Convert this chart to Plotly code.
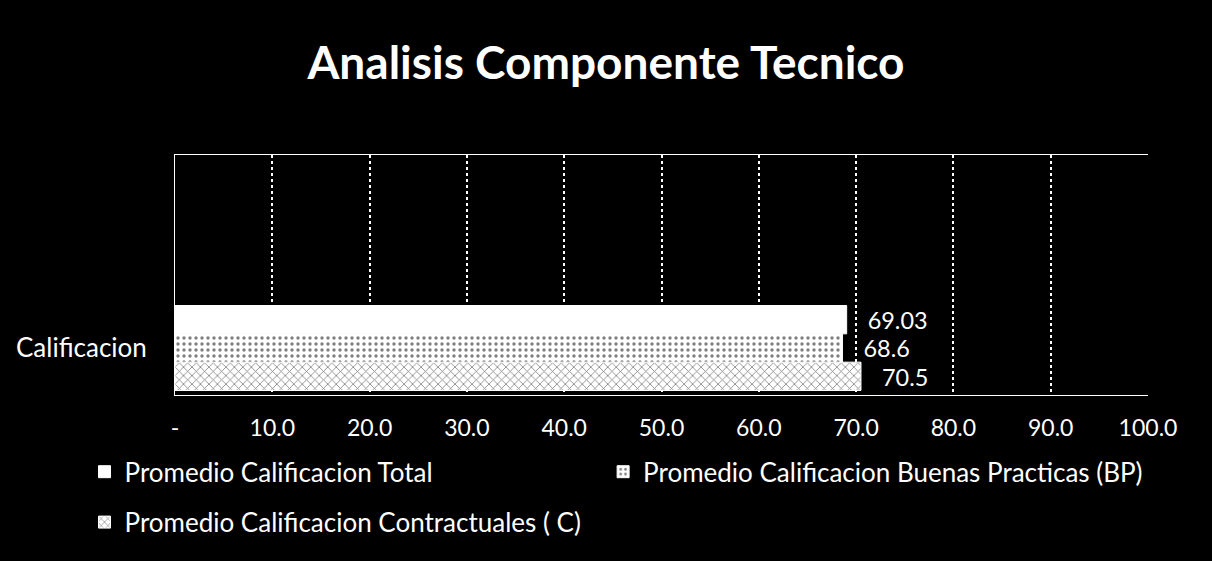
import plotly.graph_objects as go

categories = ["Calificacion"]
series_names = [
    "Promedio Calificacion Total",
    "Promedio Calificacion Buenas Practicas (BP)",
    "Promedio Calificacion Contractuales ( C)",
]
series_values = [[69.03], [68.6], [70.5]]
series_labels = ["69.03", "68.6", "70.5"]
tick_vals = [0, 10, 20, 30, 40, 50, 60, 70, 80, 90, 100]
tick_text = ["-", "10.0", "20.0", "30.0", "40.0", "50.0", "60.0", "70.0", "80.0", "90.0", "100.0"]

patterns = ["", ".", "x"]
legend_ids = ["legend", "legend3", "legend2"]
FONT = "Lato"
NBSP = "\u00a0"

fig = go.Figure()
# Plotly stacks grouped horizontal bars bottom-up, so add in reverse order
for i in reversed(range(len(series_names))):
    fig.add_trace(go.Bar(
        y=categories,
        x=series_values[i],
        name=series_names[i],
        orientation="h",
        legend=legend_ids[i],
        text=[NBSP * 3 + series_labels[i]],
        textposition="outside",
        textfont=dict(color="white", size=24, family=FONT),
        cliponaxis=False,
        marker=dict(
            color="white",
            line=dict(color="white", width=1),
            pattern=dict(shape=patterns[i], fgcolor="black", bgcolor="white",
                         size=6, solidity=0.25),
        ),
    ))

legend_common = dict(orientation="h", xanchor="left", yanchor="middle",
                     font=dict(size=26, color="white", family=FONT),
                     bgcolor="rgba(0,0,0,0)", itemwidth=30)

fig.update_layout(
    width=1212, height=561,
    paper_bgcolor="black", plot_bgcolor="black",
    font=dict(family=FONT, color="white", size=22),
    title=dict(text="<b>Analisis Componente Tecnico</b>", x=0.5, xanchor="center",
               y=0.888, yanchor="middle",
               font=dict(size=46, color="white", family=FONT)),
    barmode="group", bargap=0.15, bargroupgap=0.0,
    margin=dict(l=175, r=64, t=155, b=166),
    showlegend=True,
    legend=dict(x=-0.093, y=-0.32, **legend_common),
    legend3=dict(x=0.44, y=-0.32, **legend_common),
    legend2=dict(x=-0.093, y=-0.53, **legend_common),
    xaxis=dict(range=[0, 100], tickvals=tick_vals, ticktext=tick_text,
               showgrid=True, gridcolor="white", griddash="dot", gridwidth=2,
               showline=True, linecolor="white", mirror=True, linewidth=1,
               zeroline=False, ticks="", tickfont=dict(size=23, color="white"),
               ticklabelstandoff=12),
    yaxis=dict(range=[-0.47, 1.93], showgrid=False, zeroline=False,
               showline=True, linecolor="white", ticks="",
               tickfont=dict(size=26, color="white"), ticklabelstandoff=22),
)

fig.write_html(
    "out.html",
    config={"displayModeBar": False},
    post_script="document.body.style.margin='0';document.body.style.background='black';",
)
